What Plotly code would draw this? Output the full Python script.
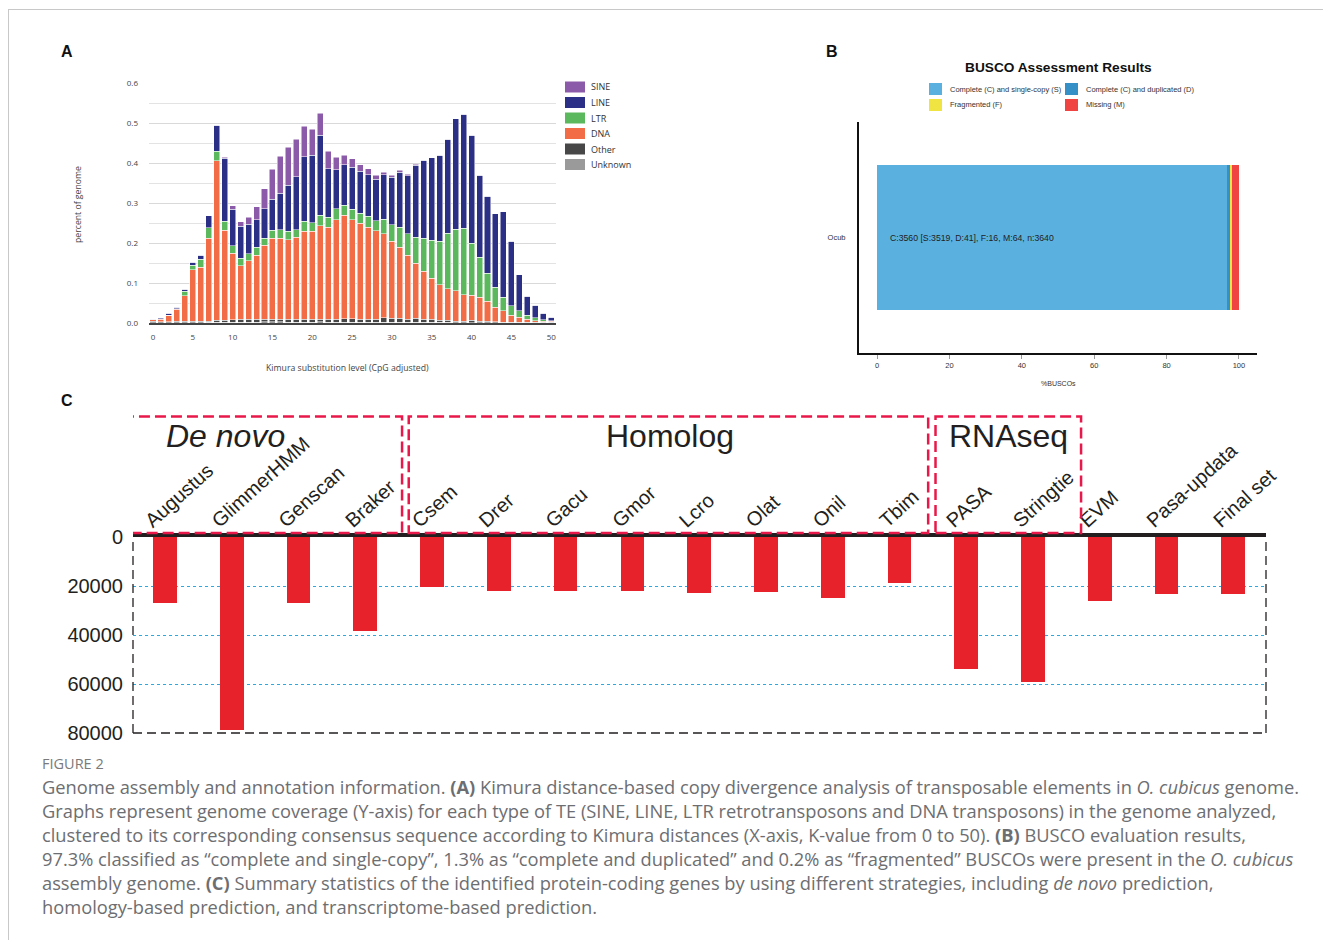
import plotly.graph_objects as go

# page body adds an 8px offset; figure sized so it exactly fills the 1331x940 window
OFF = 8
W, H = 1331 - OFF, 940 - OFF

# ---------------- Panel A data: Kimura divergence landscape ----------------
kimura = [0, 1, 2, 3, 4, 5, 6, 7, 8, 9, 10, 11, 12, 13, 14, 15, 16, 17, 18, 19, 20,
          21, 22, 23, 24, 25, 26, 27, 28, 29, 30, 31, 32, 33, 34, 35, 36, 37, 38, 39, 40,
          41, 42, 43, 44, 45, 46, 47, 48, 49, 50]
unknown = [0.001, 0.001, 0.001, 0.001, 0.001, 0.001, 0.001, 0.002, 0.002, 0.002,
           0.002, 0.002, 0.002, 0.002, 0.003, 0.003, 0.003, 0.002, 0.002, 0.002,
           0.002, 0.003, 0.002, 0.002, 0.002, 0.002, 0.002, 0.002, 0.002, 0.002,
           0.002, 0.002, 0.002, 0.002, 0.002, 0.002, 0.002, 0.002, 0.001, 0.001,
           0.001, 0.001, 0.001, 0.001, 0.001, 0.001, 0.001, 0.001, 0.001, 0.001, 0.001]
other = [0.004, 0.002, 0.002, 0.003, 0.003, 0.003, 0.003, 0.003, 0.005, 0.005,
         0.006, 0.007, 0.007, 0.008, 0.006, 0.006, 0.006, 0.007, 0.007, 0.007,
         0.007, 0.007, 0.007, 0.007, 0.009, 0.009, 0.007, 0.007, 0.007, 0.011,
         0.010, 0.010, 0.008, 0.010, 0.008, 0.008, 0.005, 0.005, 0.004, 0.004,
         0.006, 0.003, 0.003, 0.002, 0.001, 0.001, 0.001, 0.001, 0.001, 0.001, 0.001]
dna = [0.003, 0.007, 0.016, 0.031, 0.064, 0.129, 0.136, 0.207, 0.399, 0.225,
       0.167, 0.134, 0.147, 0.160, 0.185, 0.203, 0.203, 0.199, 0.205, 0.220,
       0.220, 0.233, 0.230, 0.249, 0.258, 0.247, 0.240, 0.231, 0.222, 0.210,
       0.192, 0.178, 0.160, 0.138, 0.120, 0.102, 0.089, 0.079, 0.076, 0.066,
       0.063, 0.060, 0.050, 0.036, 0.029, 0.018, 0.012, 0.007, 0.004, 0.003, 0.002]
ltr = [0.000, 0.001, 0.001, 0.001, 0.011, 0.012, 0.020, 0.026, 0.024, 0.022,
       0.018, 0.019, 0.017, 0.020, 0.018, 0.020, 0.021, 0.021, 0.019, 0.025,
       0.022, 0.026, 0.025, 0.028, 0.026, 0.026, 0.025, 0.027, 0.025, 0.037,
       0.042, 0.050, 0.053, 0.065, 0.082, 0.095, 0.108, 0.138, 0.153, 0.166,
       0.129, 0.101, 0.071, 0.051, 0.034, 0.023, 0.017, 0.010, 0.007, 0.003, 0.002]
line_te = [0.002, 0.002, 0.005, 0.004, 0.006, 0.007, 0.010, 0.030, 0.065, 0.158,
           0.092, 0.080, 0.074, 0.068, 0.074, 0.077, 0.092, 0.116, 0.133, 0.162,
           0.169, 0.201, 0.122, 0.097, 0.101, 0.106, 0.105, 0.104, 0.103, 0.111,
           0.118, 0.137, 0.145, 0.180, 0.195, 0.206, 0.216, 0.236, 0.277, 0.285,
           0.270, 0.205, 0.192, 0.183, 0.213, 0.162, 0.090, 0.048, 0.031, 0.016, 0.008]
sine = [0.000, 0.000, 0.000, 0.000, 0.000, 0.000, 0.000, 0.000, 0.000, 0.002,
        0.008, 0.011, 0.018, 0.033, 0.050, 0.076, 0.092, 0.095, 0.093, 0.076,
        0.065, 0.054, 0.044, 0.032, 0.023, 0.021, 0.017, 0.015, 0.011, 0.006,
        0.006, 0.005, 0.004, 0.002, 0.000, 0.000, 0.000, 0.000, 0.000, 0.000,
        0.000, 0.000, 0.000, 0.000, 0.000, 0.000, 0.000, 0.000, 0.000, 0.000, 0.000]
te_names = ["Unknown", "Other", "DNA", "LTR", "LINE", "SINE"]
te_colors = ["#9a9a9a", "#474747", "#f26c45", "#5cb85c", "#2b2f86", "#8b5aa8"]
legend_order = ["SINE", "LINE", "LTR", "DNA", "Other", "Unknown"]
a_yticks = [0.0, 0.1, 0.2, 0.3, 0.4, 0.5, 0.6]
a_yticktext = ["0.0", "0.1", "0.2", "0.3", "0.4", "0.5", "0.6"]
a_xticks = [0, 5, 10, 15, 20, 25, 30, 35, 40, 45, 50]

# ---------------- Panel B data: BUSCO ----------------
busco_labels = ["Complete (C) and single-copy (S)", "Complete (C) and duplicated (D)",
                "Fragmented (F)", "Missing (M)"]
busco_pct = [96.7, 1.1, 0.4, 1.8]
busco_colors = ["#5ab1e0", "#3490c6", "#f0e442", "#f04442"]
busco_species = "Ocub"
busco_text = "C:3560 [S:3519, D:41], F:16, M:64, n:3640"
b_xticks = [0, 20, 40, 60, 80, 100]

# ---------------- Panel C data: gene prediction ----------------
methods = ["Augustus", "GlimmerHMM", "Genscan", "Braker", "Csem", "Drer", "Gacu", "Gmor",
           "Lcro", "Olat", "Onil", "Tbim", "PASA", "Stringtie", "EVM", "Pasa-updata", "Final set"]
gene_counts = [26900, 78900, 26800, 38200, 20600, 21900, 21900, 22100,
               23000, 22400, 24800, 18800, 53800, 59200, 26300, 23400, 23200]
c_yticks = [0, 20000, 40000, 60000, 80000]
groups = ["De novo", "Homolog", "RNAseq"]


def px(x):
    return (x - OFF) / W


def py(y):
    return 1 - (y - OFF) / H


fig = go.Figure()

# Panel A stacked bars
series = [unknown, other, dna, ltr, line_te, sine]
for name, vals, col in zip(te_names, series, te_colors):
    fig.add_trace(go.Bar(x=kimura, y=vals, name=name,
                         marker=dict(color=col, line=dict(color="rgba(255,255,255,0.85)", width=0.6)),
                         width=0.76, xaxis="x", yaxis="y", showlegend=False))

# Panel B stacked horizontal bar
for lab, val, col in zip(busco_labels, busco_pct, busco_colors):
    fig.add_trace(go.Bar(x=[val], y=[busco_species], orientation="h", name=lab,
                         marker=dict(color=col, line=dict(width=0)), width=0.63,
                         xaxis="x2", yaxis="y2", showlegend=False))

# Panel C bars
fig.add_trace(go.Bar(x=methods, y=gene_counts, marker=dict(color="#e8222a", line=dict(width=0)),
                     width=0.355, xaxis="x3", yaxis="y3", showlegend=False))

fA = "Open Sans"
fB = "Liberation Sans"

fig.update_layout(
    width=W, height=H, margin=dict(l=0, r=0, t=0, b=0, autoexpand=False),
    paper_bgcolor="white", plot_bgcolor="rgba(0,0,0,0)",
    barmode="stack", showlegend=False,
    xaxis=dict(domain=[px(149), px(556)], range=[-0.5, 50.6], tickvals=a_xticks, anchor="y",
               automargin=False,
               showgrid=False, zeroline=False, showline=True, linecolor="#444", linewidth=2,
               ticks="", ticklabelstandoff=5, tickfont=dict(family=fA, size=8, color="#444")),
    yaxis=dict(domain=[py(323), py(83)], range=[0, 0.6], tickvals=a_yticks, ticktext=a_yticktext,
               anchor="x", automargin=False,
               showgrid=True, gridcolor="#d9d9d9", gridwidth=1, zeroline=False,
               minor=dict(dtick=0.05, showgrid=True, gridcolor="#e3e3e3", gridwidth=1),
               ticks="", ticklabelstandoff=10, tickfont=dict(family=fA, size=8, color="#444")),
    xaxis2=dict(domain=[px(859), px(1257)], range=[-5, 105], tickvals=b_xticks, anchor="y2",
                automargin=False,
                showgrid=False, zeroline=False, showline=True, linecolor="#111", linewidth=2,
                ticks="outside", ticklen=4, tickcolor="#999", tickwidth=1,
                tickfont=dict(family=fB, size=7.5, color="#333")),
    yaxis2=dict(domain=[py(353), py(122)], range=[-0.5, 0.5], type="category", anchor="x2",
                automargin=False,
                showgrid=False, zeroline=False, showline=True, linecolor="#111", linewidth=2,
                ticks="", ticklabelstandoff=10, tickfont=dict(family=fB, size=7.5, color="#333")),
    xaxis3=dict(domain=[px(133), px(1266)], range=[-0.48, 16.49], type="category", anchor="y3",
                automargin=False,
                side="top", showgrid=False, zeroline=False, showline=True,
                linecolor="#231f20", linewidth=4, ticks="", tickangle=-42,
                ticklabelshift=-19, ticklabelstandoff=-6,
                tickfont=dict(family=fB, size=20, color="#231f20")),
    yaxis3=dict(domain=[py(733), py(537)], range=[80000, 0], tickvals=c_yticks, anchor="x3",
                automargin=False,
                ticktext=[str(v) for v in c_yticks],
                showgrid=True, gridcolor="#29abe2", gridwidth=1, griddash="3px,3px",
                zeroline=False, showline=False, ticks="", ticklabelstandoff=9,
                tickfont=dict(family=fB, size=20, color="#231f20")),
)

shapes = []
annotations = []


def note(text, x, y, size, family, color, xanchor="center", yanchor="middle", **kw):
    d = dict(text=text, x=x, y=y, xref=kw.pop("xref", "paper"), yref=kw.pop("yref", "paper"),
             xanchor=xanchor, yanchor=yanchor, showarrow=False,
             font=dict(family=family, size=size, color=color))
    d.update(kw)
    annotations.append(d)


# outer frame lines (top + left)
shapes.append(dict(type="line", xref="paper", yref="paper", x0=0, x1=1, y0=py(9.5), y1=py(9.5),
                   line=dict(color="#c8c8c8", width=1)))
shapes.append(dict(type="line", xref="paper", yref="paper", x0=0.0004, x1=0.0004, y0=py(9.5), y1=0,
                   line=dict(color="#c8c8c8", width=1)))

# panel letters
for letter, (lx, ly) in zip(["A", "B", "C"], [(67, 52), (832, 52), (67, 400)]):
    note(f"<b>{letter}</b>", px(lx), py(ly), 16, fB, "#111")

# Panel A legend
leg_y = [87, 102.5, 118, 133.5, 149, 164.5]
for name, yy in zip(legend_order, leg_y):
    col = te_colors[te_names.index(name)]
    shapes.append(dict(type="rect", xref="paper", yref="paper", x0=px(565), x1=px(585),
                       y0=py(yy + 5.5), y1=py(yy - 5.5), fillcolor=col, line=dict(width=0)))
    note(name, px(589), py(yy), 9, fA, "#333", xanchor="left")

# Panel A axis titles
note("percent of genome", px(78), py(205), 8.7, fA, "#444", textangle=-90)
note("Kimura substitution level (CpG adjusted)", px(347), py(368), 8.7, fA, "#444")

# Panel B title, legend, texts
note("<b>BUSCO Assessment Results</b>", px(1058), py(68), 13.7, fB, "#111")
leg_pos = [(929, 89), (1065, 89), (929, 105), (1065, 105)]
for lab, col, (lx, ly) in zip(busco_labels, busco_colors, leg_pos):
    shapes.append(dict(type="rect", xref="paper", yref="paper", x0=px(lx), x1=px(lx + 13),
                       y0=py(ly + 6), y1=py(ly - 6), fillcolor=col, line=dict(width=0)))
    note(lab, px(lx + 19), py(ly), 7.5, fB, "#333", xanchor="left")
note(busco_text, 3, busco_species, 8.7, fB, "#222", xanchor="left", xref="x2", yref="y2")
note("%BUSCOs", px(1058), py(383), 7, fB, "#333")

# Panel C frame (dashed)
dash_line = dict(color="#231f20", width=1.3, dash="9px,5px")
shapes.append(dict(type="line", xref="x3 domain", yref="y3 domain", x0=0, x1=0, y0=0, y1=1, line=dash_line))
shapes.append(dict(type="line", xref="x3 domain", yref="y3 domain", x0=1, x1=1, y0=0, y1=1, line=dash_line))
shapes.append(dict(type="line", xref="x3 domain", yref="y3 domain", x0=0, x1=1, y0=0, y1=0, line=dash_line))

# group boxes
box_spans = [(-0.515, 3.55), (3.65, 11.43), (11.54, 13.72)]
title_x = [0.91, 7.57, 12.64]
for g, (x0, x1), tx in zip(groups, box_spans, title_x):
    shapes.append(dict(type="rect", xref="x3", yref="paper", x0=x0, x1=x1, y0=py(533), y1=py(416.5),
                       line=dict(color="#e8194a", width=2.5, dash="11px,5px"), fillcolor="rgba(0,0,0,0)"))
    txt = f"<i>{g}</i>" if g == "De novo" else g
    note(txt, tx, py(436), 32, fB, "#231f20", xref="x3")

# Caption
cap_col = "#6d6e71"
note("FIGURE 2", px(40), py(763), 14.5, fA, "#7a7a7a", xanchor="left")
caption_lines = [
    "Genome assembly and annotation information. <b>(A)</b> Kimura distance-based copy divergence analysis of transposable elements in <i>O. cubicus</i> genome.",
    "Graphs represent genome coverage (Y-axis) for each type of TE (SINE, LINE, LTR retrotransposons and DNA transposons) in the genome analyzed,",
    "clustered to its corresponding consensus sequence according to Kimura distances (X-axis, K-value from 0 to 50). <b>(B)</b> BUSCO evaluation results,",
    "97.3% classified as \u201ccomplete and single-copy\u201d, 1.3% as \u201ccomplete and duplicated\u201d and 0.2% as \u201cfragmented\u201d BUSCOs were present in the <i>O. cubicus</i>",
    "assembly genome. <b>(C)</b> Summary statistics of the identified protein-coding genes by using different strategies, including <i>de novo</i> prediction,",
    "homology-based prediction, and transcriptome-based prediction.",
]
for i, t in enumerate(caption_lines):
    note(t, px(40), py(786 + 24 * i), 18.3, fA, cap_col, xanchor="left")

fig.update_layout(shapes=shapes, annotations=annotations)
fig.write_html("out.html")
